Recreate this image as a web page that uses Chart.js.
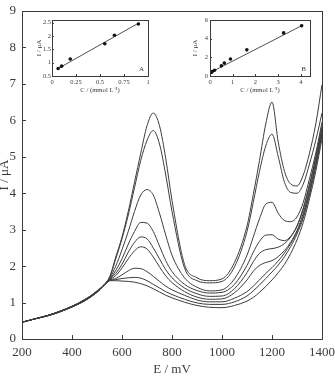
<!DOCTYPE html>
<html>
<head>
<meta charset="utf-8">
<script src="https://cdn.jsdelivr.net/npm/chart.js@4.4.0/dist/chart.umd.min.js"></script>
<style>
  html, body { margin: 0; padding: 0; background: #fff; overflow: hidden; }
  #wrap { position: relative; width: 335px; height: 377px; }
  canvas { position: absolute; }
</style>
</head>
<body>
<div id="wrap">
  <canvas id="mainChart" width="335" height="377" style="left:0;top:0"></canvas>
  <canvas id="insetA" width="116" height="84" style="left:36px;top:14px"></canvas>
  <canvas id="insetB" width="124" height="84" style="left:190px;top:14px"></canvas>
</div>
<script>
// potencial (mV) e correntes (uA)
const E = [200, 250, 300, 350, 400, 450, 500, 550, 575, 600, 625, 650, 675, 700, 725, 750, 775, 800, 850, 900, 950, 1000, 1050, 1100, 1125, 1150, 1175, 1200, 1225, 1250, 1275, 1300, 1325, 1350, 1375, 1400];

const curve1 = [0.46, 0.55, 0.64, 0.76, 0.9, 1.08, 1.32, 1.7, 2.25, 2.8, 3.5, 4.3, 5.1, 5.85, 6.2, 5.85, 4.95, 3.8, 2.05, 1.68, 1.6, 1.65, 2.1, 3.1, 3.96, 4.9, 5.9, 6.5, 5.4, 4.6, 4.25, 4.2, 4.5, 5.1, 5.9, 6.98];
const curve2 = [0.46, 0.55, 0.64, 0.76, 0.9, 1.08, 1.32, 1.68, 2.2, 2.75, 3.4, 4.15, 4.9, 5.45, 5.72, 5.35, 4.5, 3.5, 1.95, 1.6, 1.54, 1.58, 1.98, 2.95, 3.75, 4.6, 5.3, 5.62, 5.0, 4.3, 4.02, 4.0, 4.25, 4.8, 5.45, 6.2];
const curve3 = [0.46, 0.55, 0.64, 0.75, 0.89, 1.07, 1.31, 1.66, 2.0, 2.45, 2.95, 3.5, 3.95, 4.1, 3.95, 3.45, 2.85, 2.3, 1.68, 1.42, 1.32, 1.35, 1.65, 2.3, 2.8, 3.3, 3.7, 3.75, 3.45, 3.25, 3.22, 3.35, 3.75, 4.4, 5.1, 5.95];
const curve4 = [0.46, 0.55, 0.64, 0.75, 0.89, 1.06, 1.3, 1.64, 1.88, 2.2, 2.6, 2.95, 3.2, 3.18, 2.95, 2.55, 2.15, 1.85, 1.5, 1.33, 1.26, 1.28, 1.5, 2.02, 2.38, 2.68, 2.85, 2.86, 2.74, 2.7, 2.82, 3.1, 3.6, 4.25, 5.0, 5.85];
const curve5 = [0.46, 0.55, 0.64, 0.75, 0.89, 1.06, 1.3, 1.63, 1.8, 2.05, 2.38, 2.65, 2.8, 2.75, 2.5, 2.2, 1.9, 1.68, 1.4, 1.24, 1.17, 1.18, 1.38, 1.82, 2.12, 2.35, 2.45, 2.48, 2.52, 2.62, 2.8, 3.1, 3.55, 4.2, 4.95, 5.78];
const curve6 = [0.46, 0.55, 0.64, 0.75, 0.88, 1.05, 1.29, 1.62, 1.74, 1.95, 2.2, 2.42, 2.53, 2.47, 2.25, 1.98, 1.73, 1.55, 1.3, 1.15, 1.09, 1.1, 1.27, 1.62, 1.86, 2.02, 2.1, 2.15, 2.26, 2.43, 2.66, 2.98, 3.45, 4.1, 4.85, 5.72];
const curve7 = [0.46, 0.55, 0.63, 0.74, 0.88, 1.05, 1.29, 1.61, 1.66, 1.76, 1.87, 1.94, 1.93, 1.85, 1.72, 1.58, 1.45, 1.35, 1.2, 1.07, 1.02, 1.02, 1.12, 1.3, 1.45, 1.62, 1.8, 1.96, 2.14, 2.36, 2.62, 2.94, 3.38, 4.02, 4.78, 5.66];
const curve8 = [0.46, 0.55, 0.63, 0.74, 0.88, 1.05, 1.28, 1.6, 1.63, 1.66, 1.68, 1.69, 1.67, 1.6, 1.5, 1.4, 1.3, 1.22, 1.09, 0.99, 0.95, 0.95, 1.02, 1.18, 1.32, 1.48, 1.66, 1.84, 2.03, 2.26, 2.54, 2.88, 3.32, 3.96, 4.72, 5.6];
const curve9 = [0.46, 0.55, 0.63, 0.74, 0.88, 1.04, 1.28, 1.6, 1.6, 1.59, 1.58, 1.56, 1.52, 1.46, 1.38, 1.29, 1.2, 1.13, 1.01, 0.92, 0.87, 0.86, 0.92, 1.04, 1.14, 1.28, 1.44, 1.62, 1.82, 2.05, 2.35, 2.72, 3.2, 3.85, 4.6, 5.5];

const xTicks = [200, 400, 600, 800, 1000, 1200, 1400];
const yTicks = [0, 1, 2, 3, 4, 5, 6, 7, 8, 9];

// inset A (pico 1) e inset B (pico 2)
const concA = [0.064, 0.10, 0.19, 0.55, 0.65, 0.90];
const peakA = [0.78, 0.87, 1.14, 1.71, 2.03, 2.45];
const fitAx = [0.054, 0.91];
const fitAy = [0.76, 2.5];
const xTicksA = [0, 0.25, 0.5, 0.75, 1];
const yTicksA = [0.5, 1, 1.5, 2, 2.5];

const concB = [0.05, 0.1, 0.2, 0.5, 0.63, 0.9, 1.62, 3.24, 4.03];
const peakB = [0.38, 0.47, 0.62, 1.09, 1.38, 1.82, 2.8, 4.62, 5.38];
const fitBx = [0.03, 4.1];
const fitBy = [0.39, 5.47];
const xTicksB = [0, 1, 2, 3, 4];
const yTicksB = [0, 1, 2, 3, 4, 5, 6];

const SERIF = "'Liberation Serif', 'Times New Roman', serif";
const INK = '#3c3c3c';
const NO_GRID = { display: false, drawTicks: false, tickLength: 0 };

function pts(xs, ys) {
    return xs.map((x, i) => ({ x: x, y: ys[i] }));
}

// moldura + ticks para dentro
const frameTicks = {
    id: 'frameTicks',
    afterDatasetsDraw(chart, args, opts) {
        const { ctx, chartArea: a, scales } = chart;
        const len = opts.len || 4;
        ctx.save();
        ctx.strokeStyle = INK;
        ctx.lineWidth = 1;
        ctx.strokeRect(Math.round(a.left) + 0.5, Math.round(a.top) + 0.5, Math.round(a.width), Math.round(a.height));
        ctx.beginPath();
        scales.x.ticks.forEach(t => {
            const px = Math.round(scales.x.getPixelForValue(t.value)) + 0.5;
            ctx.moveTo(px, a.bottom);
            ctx.lineTo(px, a.bottom - len);
        });
        scales.y.ticks.forEach(t => {
            const py = Math.round(scales.y.getPixelForValue(t.value)) + 0.5;
            ctx.moveTo(a.left, py);
            ctx.lineTo(a.left + len, py);
        });
        ctx.stroke();
        if (opts.tag) {
            ctx.fillStyle = INK;
            ctx.font = '7px ' + SERIF;
            ctx.textAlign = 'right';
            ctx.textBaseline = 'bottom';
            ctx.fillText(opts.tag, a.right - 4, a.bottom - 3);
        }
        ctx.restore();
    }
};

const curves = [curve1, curve2, curve3, curve4, curve5, curve6, curve7, curve8, curve9];

new Chart(document.getElementById('mainChart'), {
    type: 'line',
    data: {
        datasets: curves.map(c => ({
            data: pts(E, c),
            borderColor: INK,
            borderWidth: 1,
            pointRadius: 0,
            cubicInterpolationMode: 'monotone',
            fill: false
        }))
    },
    options: {
        responsive: false,
        animation: false,
        events: [],
        layout: { padding: { top: 11, right: 13, left: 0, bottom: 0 } },
        plugins: { legend: { display: false }, tooltip: { enabled: false }, frameTicks: { len: 4 } },
        scales: {
            x: {
                type: 'linear', min: 200, max: 1400,
                grid: NO_GRID, border: { display: false },
                afterBuildTicks: s => { s.ticks = xTicks.map(v => ({ value: v })); },
                afterFit: s => { s.height = 38; s.paddingLeft = 0; s.paddingRight = 0; },
                ticks: { color: INK, font: { family: SERIF, size: 13 }, padding: 6, maxRotation: 0, callback: v => String(v) },
                title: { display: true, text: 'E / mV', color: INK, font: { family: SERIF, size: 13 }, padding: { top: 0, bottom: 0 } }
            },
            y: {
                type: 'linear', min: 0, max: 9,
                grid: NO_GRID, border: { display: false },
                afterBuildTicks: s => { s.ticks = yTicks.map(v => ({ value: v })); },
                afterFit: s => { s.width = 22; s.paddingTop = 0; s.paddingBottom = 0; },
                ticks: { color: INK, font: { family: SERIF, size: 13 }, padding: 6, callback: v => String(v) },
                title: { display: true, text: 'I / μA', color: INK, font: { family: SERIF, size: 13 }, padding: { top: -3, bottom: 0 } }
            }
        }
    },
    plugins: [frameTicks]
});

function inset(id, xs, ys, fx, fy, xmin, xmax, ymin, ymax, xt, yt, yWidth, titlePad, tickPad, tag) {
    new Chart(document.getElementById(id), {
        type: 'scatter',
        data: {
            datasets: [
                { data: pts(xs, ys), pointRadius: 1.8, pointBackgroundColor: '#111', pointBorderWidth: 0, showLine: false },
                { data: pts(fx, fy), showLine: true, borderColor: INK, borderWidth: 0.9, pointRadius: 0 }
            ]
        },
        options: {
            responsive: false,
            animation: false,
            events: [],
            layout: { padding: { top: 6, right: 4, left: 0, bottom: 0 } },
            plugins: { legend: { display: false }, tooltip: { enabled: false }, frameTicks: { len: 2, tag: tag } },
            scales: {
                x: {
                    type: 'linear', min: xmin, max: xmax,
                    grid: NO_GRID, border: { display: false },
                    afterBuildTicks: s => { s.ticks = xt.map(v => ({ value: v })); },
                    afterFit: s => { s.height = 22; s.paddingLeft = 0; s.paddingRight = 0; },
                    ticks: { color: INK, font: { family: SERIF, size: 6.5 }, padding: 2, maxRotation: 0, callback: v => String(v) },
                    title: { display: true, text: 'C / (mmol L⁻¹)', color: INK, font: { family: SERIF, size: 6.7 }, padding: { top: 0, bottom: 4 } }
                },
                y: {
                    type: 'linear', min: ymin, max: ymax,
                    grid: NO_GRID, border: { display: false },
                    afterBuildTicks: s => { s.ticks = yt.map(v => ({ value: v })); },
                    afterFit: s => { s.width = yWidth; s.paddingTop = 0; s.paddingBottom = 0; },
                    ticks: { color: INK, font: { family: SERIF, size: 6.5 }, padding: tickPad, callback: v => String(v) },
                    title: { display: true, text: 'I / μA', color: INK, font: { family: SERIF, size: 7 }, padding: { top: titlePad, bottom: 0 } }
                }
            }
        },
        plugins: [frameTicks]
    });
}

inset('insetA', concA, peakA, fitAx, fitAy, 0, 1, 0.5, 2.6, xTicksA, yTicksA, 16, -1, 1, 'A');
inset('insetB', concB, peakB, fitBx, fitBy, 0, 4.4, 0, 6, xTicksB, yTicksB, 20, 1, 2, 'B');
</script>
</body>
</html>
